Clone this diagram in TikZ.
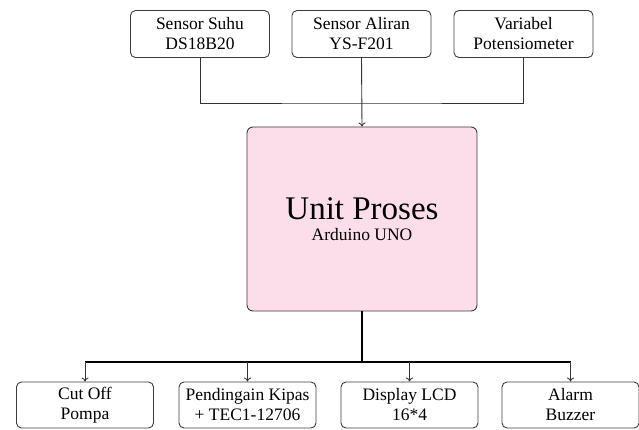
\documentclass[tikz,border=0pt]{standalone}
\usepackage{fontspec}
\setmainfont{Liberation Serif}
\usetikzlibrary{arrows.meta}
\definecolor{boxline}{RGB}{60,60,60}
\definecolor{cpufill}{RGB}{252,222,234}
\tikzset{
  inbox/.style={draw=boxline, line width=0.9pt, rounded corners=5pt, minimum width=139pt, minimum height=47pt, inner sep=0pt, align=center, font=\fontsize{17.5}{20}\selectfont},
  outbox/.style={inbox, minimum width=137pt, minimum height=46pt},
  cpubox/.style={draw=boxline, line width=0.9pt, rounded corners=6pt, fill=cpufill, minimum width=230pt, minimum height=184pt, inner sep=0pt},
  wire/.style={line width=0.9pt, draw=black!80},
  trunk/.style={line width=1.3pt, draw=black},
  arr/.style={wire, -{To[length=4pt,width=7pt]}}
}
\begin{document}
\begin{tikzpicture}[x=1pt,y=-1pt]
\useasboundingbox (0,0) rectangle (639,430);
\node[inbox] (s1) at (200,34) {Sensor Suhu\\DS18B20};
\node[inbox] (s2) at (361.5,34) {Sensor Aliran\\YS-F201};
\node[inbox] (s3) at (523.5,34) {Variabel\\Potensiometer};
\node[cpubox] (cpu) at (362,219) {};
\node[anchor=base, inner sep=0pt, font=\fontsize{33}{36}\selectfont] (cput) at (362,219) {Unit Proses};
\node[anchor=base, inner sep=0pt, font=\fontsize{17.5}{20}\selectfont] (cpus) at (362,240.5) {Arduino UNO};
\node[outbox] (b1) at (85,405) {Cut Off\\Pompa};
\node[outbox] (b2) at (247.5,405) {Pendingain Kipas\\+ TEC1-12706};
\node[outbox] (b3) at (409.5,405) {Display LCD\\16*4};
\node[outbox] (b4) at (570.5,405) {Alarm\\Buzzer};
\coordinate (j) at (s2.south |- 0,103);
\coordinate (k) at (cpu.south |- 0,362);
\draw[wire] (s1.south) |- (j) -| (s3.south);
\draw[arr] (s2.south) -- (cpu.north);
\draw[trunk] (cpu.south) -- (k);
\coordinate (k1) at (b1.north |- k);
\coordinate (k2) at (b2.north |- k);
\coordinate (k3) at (b3.north |- k);
\coordinate (k4) at (b4.north |- k);
\draw[trunk] (k1) -- (k4);
\draw[arr] (k1) -- (b1.north);
\draw[arr] (k2) -- (b2.north);
\draw[arr] (k3) -- (b3.north);
\draw[arr] (k4) -- (b4.north);
\end{tikzpicture}
\end{document}
